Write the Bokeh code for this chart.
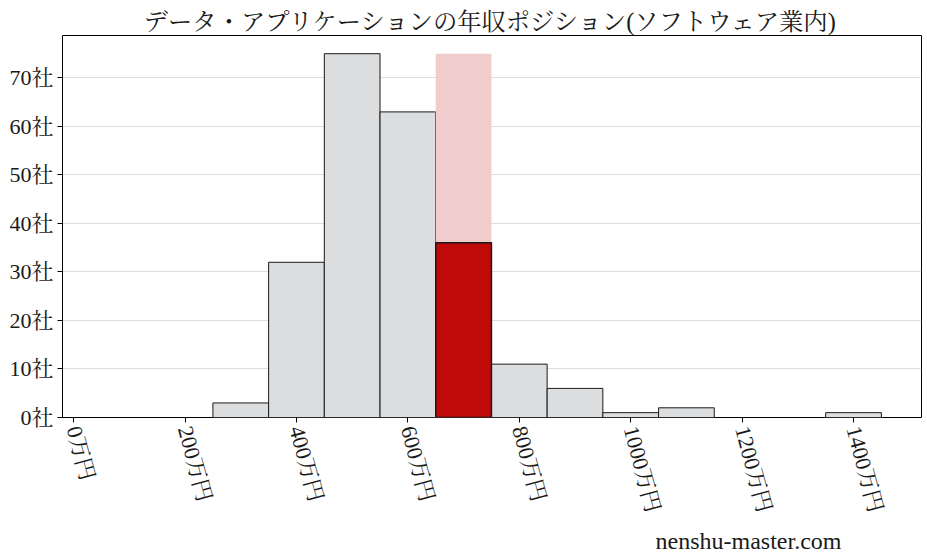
from bokeh.plotting import figure
from bokeh.models import Range1d, FixedTicker, CustomJSTickFormatter, Title
from bokeh.embed import file_html
from bokeh.resources import INLINE
import math

# data
bin_edges = [250, 350, 450, 550, 650, 750, 850, 950, 1050, 1150, 1250, 1350, 1450]
counts = [3, 32, 75, 63, 36, 11, 6, 1, 2, 0, 0, 1]
highlight_bin = 4  # 650-750万円
x_ticks = [0, 200, 400, 600, 800, 1000, 1200, 1400]
y_ticks = [0, 10, 20, 30, 40, 50, 60, 70]
title_text = "データ・アプリケーションの年収ポジション(ソフトウェア業内)"
watermark = "nenshu-master.com"

FONT = "'Liberation Serif', 'Noto Serif CJK JP', 'Noto Sans CJK JP', serif"

p = figure(frame_width=859, frame_height=382, output_backend="svg",
           toolbar_location=None, x_range=Range1d(-20, 1522),
           y_range=Range1d(0, max(counts) * 1.05))
p.min_border_left = 62
p.min_border_right = 6
p.min_border_top = 35
p.min_border_bottom = 140
p.background_fill_color = "white"
p.outline_line_color = "black"
p.outline_line_width = 1

lefts = bin_edges[:-1]
rights = bin_edges[1:]
normal = [i for i in range(len(counts)) if i != highlight_bin and counts[i] > 0]
p.quad(left=[lefts[i] for i in normal], right=[rights[i] for i in normal],
       top=[counts[i] for i in normal], bottom=0,
       fill_color="#dcdddf", line_color="#1a1a1a", line_width=1)
# highlight background
p.quad(left=[lefts[highlight_bin]], right=[rights[highlight_bin]],
       top=[max(counts)], bottom=0, fill_color="#f0cccc", line_color=None)
p.quad(left=[lefts[highlight_bin]], right=[rights[highlight_bin]],
       top=[counts[highlight_bin]], bottom=0,
       fill_color="#c00a0a", line_color="#1a1a1a", line_width=1.5)

p.xgrid.visible = False
p.ygrid.grid_line_color = "#dddddd"
p.ygrid.grid_line_width = 1
p.ygrid.level = "underlay"

p.xaxis.ticker = FixedTicker(ticks=x_ticks)
p.yaxis.ticker = FixedTicker(ticks=y_ticks)
p.xaxis.formatter = CustomJSTickFormatter(code="return tick.toFixed(0) + '万円';")
p.yaxis.formatter = CustomJSTickFormatter(code="return tick.toFixed(0) + '社';")
for ax in (p.xaxis, p.yaxis):
    ax.axis_line_color = None
    ax.major_tick_line_color = "black"
    ax.major_tick_out = 5
    ax.major_tick_in = 0
    ax.minor_tick_line_color = None
    ax.major_label_text_font = FONT
    ax.major_label_text_font_size = "22px"
    ax.major_label_text_color = "#1a1a1a"
p.xaxis.major_label_orientation = -math.radians(75)
p.xaxis.major_label_standoff = 4
p.yaxis.major_label_standoff = 4

p.title.text = title_text
p.title.text_font = FONT
p.title.text_font_size = "24.3px"
p.title.text_font_style = "normal"
p.title.text_color = "#1a1a1a"
p.title.align = "center"
p.title.standoff = 2

wm = Title(text=watermark, text_font=FONT, text_font_size="24px",
           text_font_style="normal", text_color="#1a1a1a", align="left",
           offset=593)
p.add_layout(wm, "below")

open("out.html", "w").write(file_html(p, INLINE))
